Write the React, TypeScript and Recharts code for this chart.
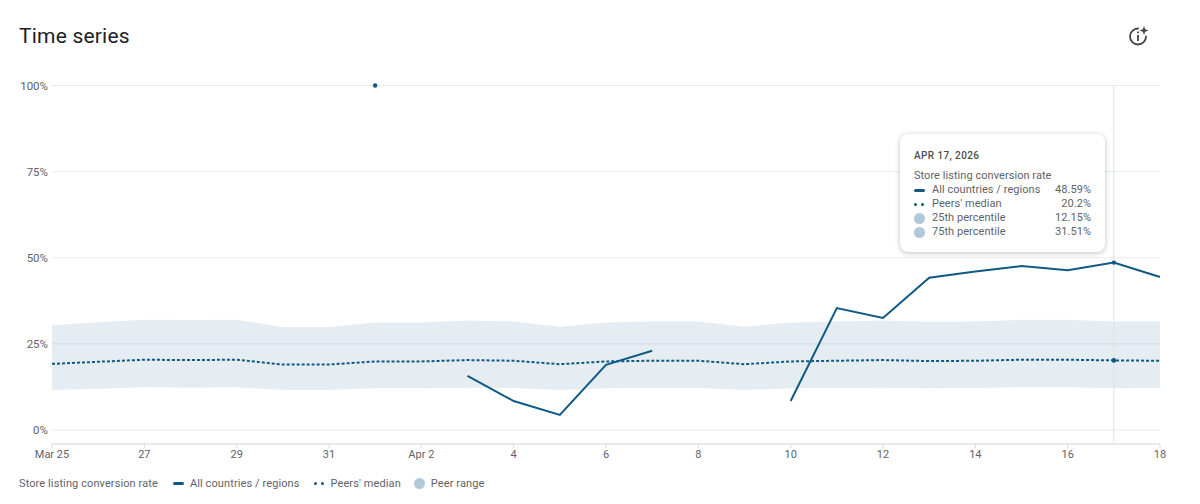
import React from 'react';
import { ComposedChart, Area, Line, XAxis, YAxis, CartesianGrid, Tooltip, Legend, ReferenceLine } from 'recharts';

const days = [
  'Mar 25', '26', '27', '28', '29', '30', '31', 'Apr 1', 'Apr 2', '3', '4', '5', '6', '7', '8', '9',
  '10', '11', '12', '13', '14', '15', '16', '17', '18',
];
const allCountries = [
  null, null, null, null, null, null, null, 100, null, 15.7, 8.4, 4.4, 18.9, 23, null, null,
  8.4, 35.4, 32.5, 44.2, 46, 47.6, 46.4, 48.59, 44.4,
];
const peersMedian = [
  19.2, 19.8, 20.4, 20.3, 20.4, 19, 19, 19.9, 19.9, 20.3, 20.1, 19.1, 19.9, 20.1, 20.1, 19.1,
  19.9, 20.1, 20.3, 20, 20.1, 20.4, 20.4, 20.2, 20.1,
];
const p25 = [
  11.6, 12, 12.4, 12.3, 12.4, 11.6, 11.6, 12.1, 12.1, 12.3, 12.2, 11.6, 12.1, 12.2, 12.2, 11.6,
  12.1, 12.2, 12.3, 12.1, 12.2, 12.4, 12.4, 12.15, 12.2,
];
const p75 = [
  30.4, 31.3, 32, 31.9, 32, 29.9, 29.9, 31.2, 31.2, 31.8, 31.5, 30, 31.2, 31.5, 31.5, 30,
  31.2, 31.5, 31.8, 31.4, 31.5, 32, 32, 31.51, 31.5,
];
const yTicks = [0, 25, 50, 75, 100];
const xTicks = days.filter((_, i) => i % 2 === 0);

const data = days.map((day, i) => ({
  day,
  all: allCountries[i],
  median: peersMedian[i],
  range: [p25[i], p75[i]],
}));

const DARK = '#0f5a85';
const GREY = '#5f6368';
const SWATCH = '#b2c9da';
const HOVER = 23;

const allDot = (props: any) =>
  props.index === HOVER || props.index === 7
    ? <circle key={props.index} cx={props.cx} cy={props.cy} r={2.2} fill={DARK} />
    : <g key={props.index} />;

const medianDot = (props: any) =>
  props.index === HOVER
    ? <circle key={props.index} cx={props.cx} cy={props.cy} r={2.4} fill={DARK} />
    : <g key={props.index} />;

const LineSwatch = () => <span style={{ width: 11, height: 3, borderRadius: 2, background: DARK, display: 'inline-block' }} />;
const DotsSwatch = () => (
  <span style={{ width: 10, display: 'inline-flex', justifyContent: 'space-between' }}>
    <span style={{ width: 3, height: 3, borderRadius: 2, background: DARK }} />
    <span style={{ width: 3, height: 3, borderRadius: 2, background: DARK }} />
  </span>
);
const CircleSwatch = () => <span style={{ width: 11, height: 11, borderRadius: 6, background: SWATCH, display: 'inline-block' }} />;

const CustomLegend = () => (
  <div style={{ display: 'flex', alignItems: 'center', fontSize: 11, letterSpacing: 0.1, color: GREY, whiteSpace: 'nowrap', height: 16 }}>
    <span style={{ marginRight: 15 }}>Store listing conversion rate</span>
    <LineSwatch />
    <span style={{ marginLeft: 6, marginRight: 14 }}>All countries / regions</span>
    <DotsSwatch />
    <span style={{ marginLeft: 7, marginRight: 13 }}>Peers' median</span>
    <CircleSwatch />
    <span style={{ marginLeft: 6 }}>Peer range</span>
  </div>
);

const rows = [
  { name: 'All countries / regions', value: allCountries[HOVER], swatch: <LineSwatch /> },
  { name: "Peers' median", value: peersMedian[HOVER], swatch: <DotsSwatch /> },
  { name: '25th percentile', value: p25[HOVER], swatch: <CircleSwatch /> },
  { name: '75th percentile', value: p75[HOVER], swatch: <CircleSwatch /> },
];

const CustomTooltip = () => (
  <div style={{
    width: 205, height: 118, boxSizing: 'border-box', padding: '16px 14px', background: '#fff',
    borderRadius: 8, boxShadow: '0 1px 5px rgba(60,64,67,0.35)', fontSize: 11, letterSpacing: 0.05, color: GREY, lineHeight: '14px',
  }}>
    <div style={{ fontSize: 10, fontWeight: 500, letterSpacing: 0.4, color: '#4a4e52', marginBottom: 7, lineHeight: '12px' }}>APR 17, 2026</div>
    <div>Store listing conversion rate</div>
    {rows.map((r) => (
      <div key={r.name} style={{ display: 'flex', alignItems: 'center' }}>
        <span style={{ width: 18, display: 'inline-flex', alignItems: 'center' }}>{r.swatch}</span>
        <span style={{ flex: 1 }}>{r.name}</span>
        <span>{r.value}%</span>
      </div>
    ))}
  </div>
);

const App: React.FC = () => {
  return (
    <div style={{ position: 'absolute', left: 0, top: 0, width: 1200, height: 504, background: '#fff', fontFamily: 'Roboto, sans-serif', overflow: 'hidden' }}>
      <div style={{ position: 'absolute', left: 19, top: 23, fontSize: 21, fontWeight: 400, letterSpacing: 0.2, color: '#202124', lineHeight: '26px' }}>Time series</div>
      <svg style={{ position: 'absolute', left: 1126, top: 24 }} width={24} height={24} viewBox="0 0 24 24" fill="none" stroke="#444" strokeWidth={1.8}>
        <path d="M12 4.5 A8 8 0 1 0 20 12.5" strokeLinecap="round" />
        <path d="M12 11 V17 M12 7.6 V9.2" />
        <path d="M18 2 L19.2 5.3 L22.5 6.5 L19.2 7.7 L18 11 L16.8 7.7 L13.5 6.5 L16.8 5.3 Z" fill="#444" stroke="none" />
      </svg>
      <ComposedChart width={1200} height={504} data={data} margin={{ top: 85.5, right: 40, bottom: 14, left: 0 }} style={{ position: 'absolute', left: 0, top: 0 }}>
        <CartesianGrid vertical={false} stroke="#e8eaed" strokeWidth={1} />
        <XAxis
          dataKey="day"
          ticks={xTicks}
          interval={0}
          tick={{ fontSize: 11, fill: GREY }}
          axisLine={{ stroke: '#dadce0' }}
          tickLine={{ stroke: '#dadce0' }}
          tickSize={4}
          tickMargin={2}
        />
        <YAxis
          width={52}
          domain={[0, 100]}
          ticks={yTicks}
          padding={{ bottom: 14 }}
          tickFormatter={(v: number) => `${v}%`}
          tick={{ fontSize: 11.5, fill: GREY }}
          axisLine={false}
          tickLine={false}
          tickSize={0}
          tickMargin={4}
        />
        <Area type="linear" dataKey="range" stroke="none" fill="#7fa6c0" fillOpacity={0.2} isAnimationActive={false} activeDot={false} />
        <ReferenceLine x="17" stroke="#e0e3e7" strokeWidth={1} />
        <Line type="linear" dataKey="median" stroke={DARK} strokeWidth={2} strokeDasharray="3 2" dot={medianDot} activeDot={false} isAnimationActive={false} />
        <Line type="linear" dataKey="all" stroke={DARK} strokeWidth={2} dot={allDot} activeDot={false} isAnimationActive={false} />
        <Legend content={<CustomLegend />} verticalAlign="bottom" wrapperStyle={{ left: 19, top: 475, width: 'auto' }} />
        <Tooltip
          active
          defaultIndex={HOVER}
          content={<CustomTooltip />}
          cursor={false}
          position={{ x: 900, y: 134 }}
          isAnimationActive={false}
          wrapperStyle={{ outline: 'none' }}
        />
      </ComposedChart>
    </div>
  );
};

export default App;
